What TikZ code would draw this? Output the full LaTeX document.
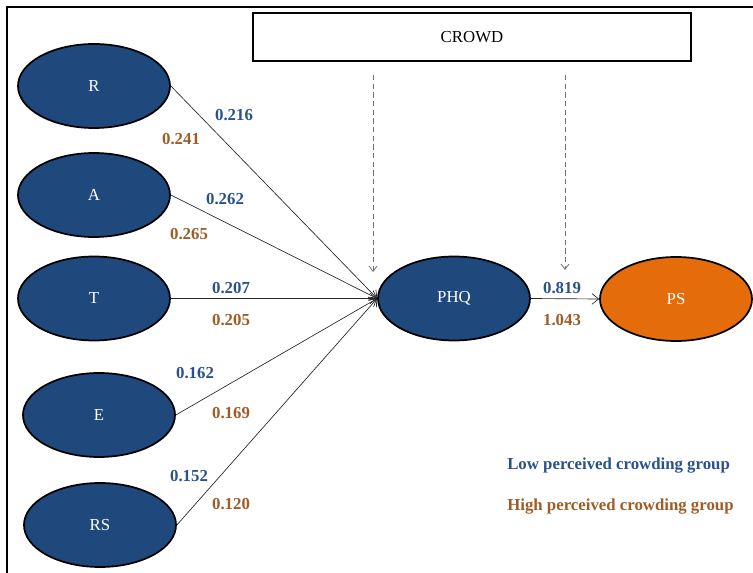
\documentclass[tikz,border=0pt]{standalone}
\usepackage{fontspec}
\setmainfont{Liberation Serif}
\usetikzlibrary{arrows.meta,shapes.geometric}
\definecolor{navy}{RGB}{31,73,125}
\definecolor{lblue}{RGB}{41,82,140}
\definecolor{lbrown}{RGB}{158,92,38}
\definecolor{orng}{RGB}{228,108,10}
\definecolor{dgrey}{RGB}{110,110,110}
\tikzset{
  latent/.style={ellipse, draw=black, line width=1.3pt, fill=navy, text=white,
    minimum width=114pt, minimum height=63pt, inner sep=0pt, font=\fontsize{12.6}{14}\selectfont},
  outcome/.style={latent, fill=orng},
  lowlab/.style={text=lblue, font=\fontsize{12.6}{14}\selectfont\bfseries, inner sep=0pt},
  highlab/.style={text=lbrown, font=\fontsize{12.6}{14}\selectfont\bfseries, inner sep=0pt},
  pathline/.style={draw=black!85, line width=0.5pt, -{Straight Barb[length=5pt,width=8pt]}},
  modpath/.style={draw=dgrey, line width=0.6pt, dash pattern=on 4pt off 2.5pt, -{Straight Barb[length=4pt,width=6pt]}},
}
\begin{document}
\begin{tikzpicture}[x=0.75pt,y=-0.75pt]
\useasboundingbox (0,0) rectangle (753,573);
\draw[line width=1.5pt] (7,580) -- (7,7) -- (760,7);
\node[draw=black, line width=1.5pt, minimum width=328.5pt, minimum height=36pt, inner sep=0pt,
  font=\fontsize{12.6}{14}\selectfont] (crowd) at (472,37) {CROWD};
\node[latent] (R) at (94,86) {R};
\node[latent] (A) at (94,195) {A};
\node[latent] (T) at (94,298.5) {T};
\node[latent] (E) at (99,415) {E};
\node[latent] (RS) at (100,525) {RS};
\node[latent] (PHQ) at (454,298.5) {PHQ};
\node[outcome] (PS) at (676,299) {PS};
\draw[pathline] (R.east) -- (PHQ.west);
\draw[pathline] (A.east) -- (PHQ.west);
\draw[pathline] (T.east) -- (PHQ.west);
\draw[pathline] (E.east) -- (PHQ.west);
\draw[pathline] (RS.east) -- (PHQ.west);
\draw[pathline] (PHQ.east) -- (PS.west);
\coordinate (m1s) at (373,75);
\coordinate (m1e) at (373,272);
\coordinate (m2s) at (565,75);
\coordinate (m2e) at (565,270);
\draw[modpath] (m1s) -- (m1e);
\draw[modpath] (m2s) -- (m2e);
\node[lowlab] (l1) at (234,115) {0.216};
\node[highlab] (h1) at (181,139) {0.241};
\node[lowlab] (l2) at (225,199) {0.262};
\node[highlab] (h2) at (189,234) {0.265};
\node[lowlab] (l3) at (231,288) {0.207};
\node[highlab] (h3) at (231,320) {0.205};
\node[lowlab] (l4) at (195,373) {0.162};
\node[highlab] (h4) at (231,413) {0.169};
\node[lowlab] (l5) at (189,476) {0.152};
\node[highlab] (h5) at (231,504) {0.120};
\node[lowlab] (l6) at (562,288) {0.819};
\node[highlab] (h6) at (562,320) {1.043};
\node[lowlab, anchor=west] (leg1) at (507,466) {Low perceived crowding group};
\node[highlab, anchor=west] (leg2) at (507,507) {High perceived crowding group};
\end{tikzpicture}
\end{document}
